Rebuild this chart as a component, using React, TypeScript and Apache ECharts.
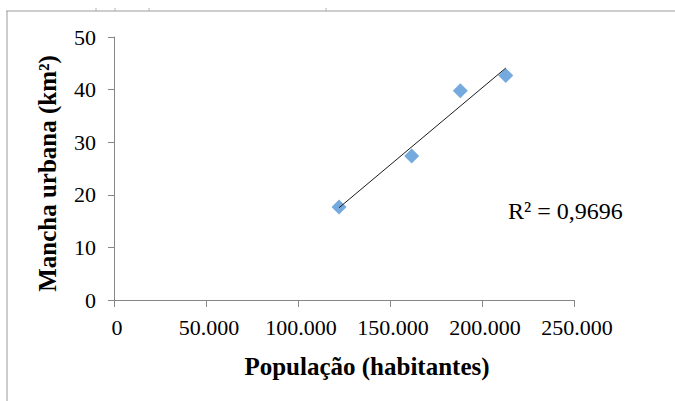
import React, { useEffect, useRef } from "react";
import * as echarts from "echarts";

// Urban footprint versus population
const population = [122300, 161800, 188200, 212900];
const urbanArea = [17.7, 27.4, 39.8, 42.7];
const rSquaredLabel = "R² = 0,9696";

const xTicks = { min: 0, max: 250000, interval: 50000 };
const yTicks = { min: 0, max: 50, interval: 10 };

const SERIF = "'Liberation Serif', 'Times New Roman', serif";

function formatThousands(v: number): string {
  return String(Math.round(v)).replace(/\B(?=(\d{3})+(?!\d))/g, ".");
}

// Least-squares trend line over the observed range
function linearFit(xs: number[], ys: number[]) {
  const n = xs.length;
  const mx = xs.reduce((a, b) => a + b, 0) / n;
  const my = ys.reduce((a, b) => a + b, 0) / n;
  let sxy = 0;
  let sxx = 0;
  for (let i = 0; i < n; i++) {
    sxy += (xs[i] - mx) * (ys[i] - my);
    sxx += (xs[i] - mx) ** 2;
  }
  const slope = sxy / sxx;
  const intercept = my - slope * mx;
  const x0 = Math.min(...xs);
  const x1 = Math.max(...xs);
  return [
    [x0, intercept + slope * x0],
    [x1, intercept + slope * x1],
  ];
}

export default function App() {
  const ref = useRef<HTMLDivElement>(null);

  useEffect(() => {
    if (!ref.current) return;
    const chart = echarts.init(ref.current, undefined, { renderer: "svg" });
    const axisColor = "#868686";

    chart.setOption({
      animation: false,
      backgroundColor: "#ffffff",
      grid: { left: 114, right: 101, top: 37, bottom: 101, containLabel: false },
      xAxis: {
        type: "value",
        ...xTicks,
        name: "População (habitantes)",
        nameLocation: "middle",
        nameGap: 54,
        nameTextStyle: {
          fontFamily: SERIF,
          fontSize: 25,
          fontWeight: "bold",
          color: "#000",
          padding: [0, 0, 0, 46],
        },
        splitLine: { show: false },
        axisLine: { show: true, onZero: false, lineStyle: { color: axisColor, width: 1 } },
        axisTick: { show: true, inside: false, length: 7, lineStyle: { color: axisColor } },
        axisLabel: {
          margin: 16,
          fontFamily: SERIF,
          fontSize: 22,
          color: "#000",
          padding: [0, 0, 0, 6],
          formatter: (v: number) => formatThousands(v),
        },
      },
      yAxis: {
        type: "value",
        ...yTicks,
        name: "Mancha urbana (km²)",
        nameLocation: "middle",
        nameGap: 54,
        nameTextStyle: {
          fontFamily: SERIF,
          fontSize: 25,
          fontWeight: "bold",
          color: "#000",
          padding: [0, 10, 0, 0],
        },
        splitLine: { show: false },
        axisLine: { show: true, onZero: false, lineStyle: { color: axisColor, width: 1 } },
        axisTick: { show: true, inside: false, length: 6, lineStyle: { color: axisColor } },
        axisLabel: { margin: 18, fontFamily: SERIF, fontSize: 22, color: "#000" },
      },
      series: [
        {
          type: "line",
          data: linearFit(population, urbanArea),
          symbol: "none",
          lineStyle: { color: "#1a1a1a", width: 1 },
          z: 3,
        },
        {
          type: "scatter",
          data: population.map((p, i) => [p, urbanArea[i]]),
          symbol: "diamond",
          symbolSize: [15, 15],
          itemStyle: { color: "#5395D6" },
          z: 2,
        },
      ],
      graphic: [
        {
          type: "text",
          left: 508,
          top: 199,
          style: { text: rSquaredLabel, fontFamily: SERIF, fontSize: 24, fill: "#000" },
        },
        // outer frame (top and left edges)
        {
          type: "line",
          shape: { x1: 6, y1: 11, x2: 675, y2: 11 },
          style: { stroke: "#9a9a9a", lineWidth: 1 },
        },
        {
          type: "line",
          shape: { x1: 7, y1: 11, x2: 7, y2: 401 },
          style: { stroke: "#9a9a9a", lineWidth: 1 },
        },
        ...[96, 115, 149, 326].map((x) => ({
          type: "line",
          shape: { x1: x, y1: 8, x2: x, y2: 11 },
          style: { stroke: "#b0b0b0", lineWidth: 1 },
        })),
      ],
    });

    return () => chart.dispose();
  }, []);

  return (
    <div
      ref={ref}
      style={{ position: "fixed", left: 0, top: 0, width: 675, height: 401 }}
    />
  );
}
